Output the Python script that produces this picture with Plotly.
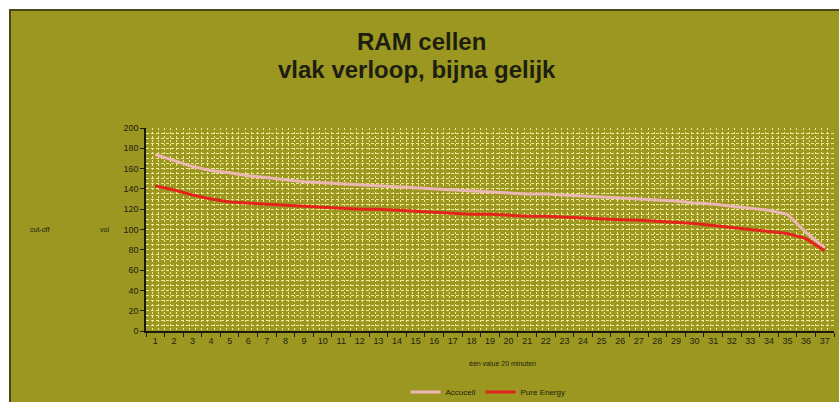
import plotly.graph_objects as go

categories = list(range(1, 38))
accucell = [174, 168, 162, 158, 156, 153, 151, 149, 147, 146, 145, 144, 143, 142,
            141, 140, 139, 138, 137, 136, 135, 135, 134, 133, 132, 131, 130, 129,
            128, 126, 125, 123, 121, 119, 115, 97, 82]
pure_energy = [143, 139, 134, 130, 127, 126, 125, 124, 123, 122, 121, 120, 120, 119,
               118, 117, 116, 115, 115, 114, 113, 113, 112, 111, 110, 109.5, 109, 108,
               107, 106, 104, 102, 100, 98, 96, 91, 79]
y_ticks = list(range(0, 201, 20))

W, H = 839, 402
L, R, T, B = 146, 834, 128, 331


def px(x):
    return (x - L) / (R - L)


def py(y):
    return (B - y) / (B - T)


fig = go.Figure()
# invisible trace on overlay axes for dense grid
fig.add_trace(go.Scatter(x=[0.5, 37.5], y=[0, 200], mode="markers", xaxis="x2", yaxis="y2",
                         marker=dict(opacity=0), showlegend=False, hoverinfo="skip"))
fig.add_trace(go.Scatter(x=categories, y=accucell, mode="lines", name="Accucell",
                         line=dict(color="#ebb7b4", width=3)))
fig.add_trace(go.Scatter(x=categories, y=pure_energy, mode="lines", name="Pure Energy",
                         line=dict(color="#e3241c", width=3)))

grid_col = "rgba(252,248,170,0.85)"
fig.update_layout(
    width=W, height=H,
    margin=dict(l=L, r=W - R, t=T, b=H - B, autoexpand=False),
    paper_bgcolor="white",
    plot_bgcolor="#b8b13a",
    font=dict(family="Liberation Sans, Arial", color="#1e1e10"),
    showlegend=True,
    legend=dict(orientation="h", x=px(488), y=py(392), xanchor="center", yanchor="middle",
                font=dict(size=8, color="#1e1e10"), bgcolor="rgba(0,0,0,0)",
                tracegroupgap=0),
    xaxis=dict(range=[0.5, 37.5], tickvals=categories, ticktext=[str(c) for c in categories],
               ticks="", showline=True, linecolor="#1a1a10", linewidth=1.5,
               showgrid=False, zeroline=False, tickfont=dict(size=9),
               minor=dict(tickvals=[c + 0.5 for c in range(0, 38)], ticks="outside",
                          ticklen=4, tickcolor="#1a1a10", showgrid=False)),
    yaxis=dict(range=[0, 200], tickvals=y_ticks, ticks="outside", ticklen=4,
               tickcolor="#1a1a10", showline=True, linecolor="#1a1a10", linewidth=1.5,
               showgrid=False, zeroline=False, tickfont=dict(size=9)),
    xaxis2=dict(overlaying="x", range=[0.5, 37.5], showticklabels=False, ticks="",
                showgrid=True, tick0=0.5, dtick=1 / 3, gridcolor=grid_col, gridwidth=1,
                griddash="2px,2px", zeroline=False, showline=False),
    yaxis2=dict(overlaying="y", range=[0, 200], showticklabels=False, ticks="",
                showgrid=True, tick0=0, dtick=5, gridcolor=grid_col, gridwidth=1,
                griddash="3px,2px", zeroline=False, showline=False),
)

# olive chart box
fig.add_shape(type="rect", xref="paper", yref="paper",
              x0=px(10), x1=px(841), y0=py(404), y1=py(10),
              fillcolor="#9c9720", line=dict(color="#4a4818", width=2), layer="below")


def note(text, x, y, size):
    fig.add_annotation(text=text, xref="paper", yref="paper", x=px(x), y=py(y),
                       xanchor="center", yanchor="middle", showarrow=False,
                       font=dict(size=size, color="#1e1e10"))


note("<b>RAM cellen</b>", 421, 41, 24)
note("<b>vlak verloop, bijna gelijk</b>", 417, 69, 24)
note("vol", 104, 229, 7)
note("cut-off", 39, 229, 7)
note("één value 20 minuten", 502, 363, 7)

fig.write_html("out.html", config={"displayModeBar": False},
               post_script="document.body.style.margin='0';document.body.style.overflow='hidden';")
